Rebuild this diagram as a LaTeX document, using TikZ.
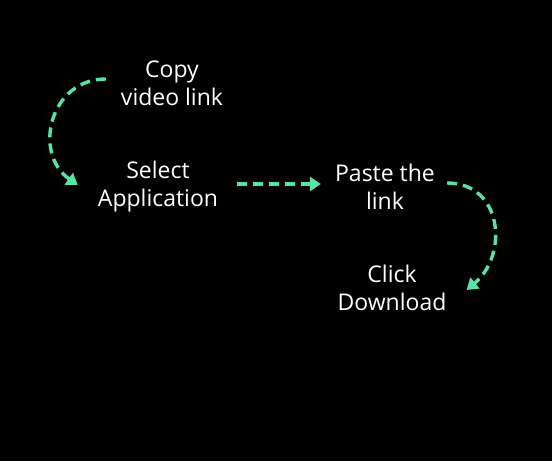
\documentclass[tikz,border=0pt]{standalone}
\usepackage{fontspec}
\setmainfont{Open Sans}
\usetikzlibrary{arrows.meta,positioning}
\definecolor{flowgreen}{HTML}{57E3A5}
\tikzset{
  stepnode/.style={text=white, align=center, font=\fontsize{23}{28}\selectfont, inner sep=2pt},
  flowarrow/.style={draw=flowgreen, line width=3.4pt, dash pattern=on 10pt off 6pt,
    -{Triangle[length=11pt,width=14pt,fill=flowgreen]}}
}
\begin{document}
\begin{tikzpicture}[x=1pt,y=1pt]
\fill[black] (0,0) rectangle (552,461);
\useasboundingbox (0,0) rectangle (552,461);

\node[stepnode] (copy) at (172,378) {Copy\\video link};
\node[stepnode] (select) at (158,274) {Select\\Application};
\node[stepnode] (paste) at (385,274) {Paste the\\link};
\node[stepnode] (click) at (392,173) {Click\\Download};

\coordinate (c1) at ([xshift=-13pt,yshift=4pt]copy.west);
\coordinate (s1) at ([xshift=-18pt,yshift=2pt]select.west);
\coordinate (s2) at ([xshift=17pt,yshift=3pt]select.east);
\coordinate (p1) at ([xshift=-12pt,yshift=3pt]paste.west);
\coordinate (p2) at ([xshift=10pt,yshift=4pt]paste.east);
\coordinate (k1) at ([xshift=18pt,yshift=-2pt]click.east);

\path[flowarrow] (c1) to[out=180,in=145,looseness=1.3] (s1);
\path[flowarrow] (s2) -- (p1);
\path[flowarrow] (p2) to[out=0,in=40,looseness=1.3] (k1);
\end{tikzpicture}
\end{document}
